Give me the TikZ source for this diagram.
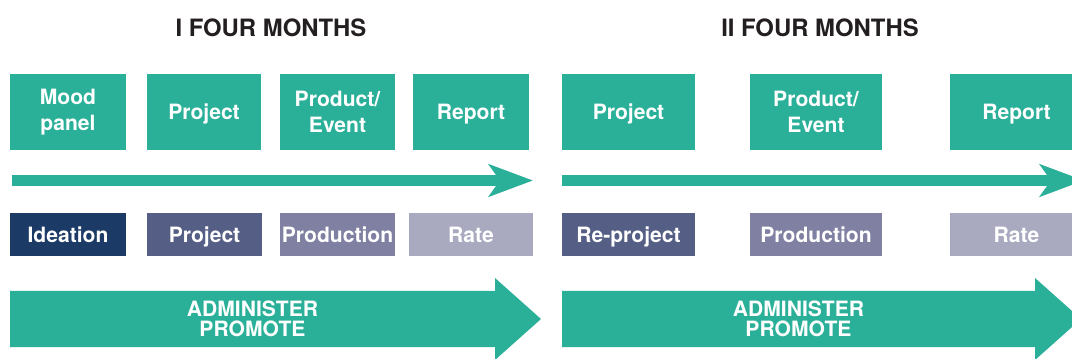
\documentclass[tikz,border=0pt]{standalone}
\usepackage{fontspec}
\setmainfont{TeX Gyre Heros}
\usetikzlibrary{arrows.meta}

\definecolor{mint}{RGB}{42,176,152}
\definecolor{ink}{RGB}{35,31,32}
\definecolor{navy}{RGB}{27,58,102}
\definecolor{slate}{RGB}{85,95,133}
\definecolor{lilac}{RGB}{128,128,162}
\definecolor{haze}{RGB}{169,170,192}

\begin{document}
\begin{tikzpicture}[
  heading/.style={text=ink,font=\fontsize{17}{20}\selectfont\bfseries},
  stagebox/.style={fill=mint,text=white,minimum width=2.9cm,minimum height=1.9cm,
    inner sep=0pt,align=center,font=\fontsize{15}{18}\selectfont\bfseries},
  oneline/.style={text height=10.8pt,text depth=0pt},
  phasebox/.style={text=white,minimum width=2.9cm,minimum height=1.075cm,
    inner sep=0pt,oneline,font=\fontsize{15}{18}\selectfont\bfseries},
  timeline/.style={mint,line width=0.275cm,
    -{Stealth[length=1.1cm,width=0.8cm,inset=0.275cm]}},
  bigtext/.style={text=white,align=center,font=\fontsize{15}{14.2}\selectfont\bfseries}]
\useasboundingbox (0,0) rectangle (26.8,8.95);
\clip (0,0) rectangle (26.8,8.95);

% headings
\node[heading] (h1) at (6.775,8.26) {I FOUR MONTHS};
\node[heading] (h2) at (20.5,8.26) {II FOUR MONTHS};

% first four months
\node[stagebox] (mood) at (1.7,6.15) {Mood\\panel};
\node[stagebox,oneline,minimum width=2.85cm] (proj1) at (5.1,6.15) {Project};
\node[stagebox,minimum width=2.875cm] (prod1) at (8.4375,6.15) {Product/\\Event};
\node[stagebox,oneline] (rep1) at (11.775,6.15) {Report};

\coordinate (t1s) at (0.3,4.4375);
\coordinate (t1e) at (13.325,4.4375);
\draw[timeline] (t1s) -- (t1e);

\node[phasebox,fill=navy] (idea) at (1.7,3.0875) {Ideation};
\node[phasebox,fill=slate,minimum width=2.875cm] (plan1) at (5.1125,3.0875) {Project};
\node[phasebox,fill=lilac,minimum width=2.875cm] (make1) at (8.4375,3.0875) {Production};
\node[phasebox,fill=haze,minimum width=3.1cm] (rate1) at (11.775,3.0875) {Rate};

\fill[mint] (0.25,1.675) -- (12.375,1.675) -- (12.375,2.0) -- (13.525,0.975)
  -- (12.375,-0.05) -- (12.375,0.275) -- (0.25,0.275) -- cycle;
\node[bigtext] (adm1) at (6.3125,0.975) {ADMINISTER\\PROMOTE};

% second four months
\node[stagebox,oneline,minimum width=3.325cm] (proj2) at (15.7125,6.15) {Project};
\node[stagebox,minimum width=3.3cm] (prod2) at (20.4,6.15) {Product/\\Event};
\node[stagebox,oneline,minimum width=3.325cm] (rep2) at (25.4125,6.15) {Report};

\coordinate (t2s) at (14.05,4.4375);
\coordinate (t2e) at (27.1,4.4375);
\draw[timeline] (t2s) -- (t2e);

\node[phasebox,fill=slate,minimum width=3.325cm] (plan2) at (15.7125,3.0875) {Re-project};
\node[phasebox,fill=lilac,minimum width=3.3cm] (make2) at (20.4,3.0875) {Production};
\node[phasebox,fill=haze,minimum width=3.325cm] (rate2) at (25.4125,3.0875) {Rate};

\fill[mint] (14.05,1.675) -- (25.875,1.675) -- (25.875,2.0) -- (27.025,0.975)
  -- (25.875,-0.05) -- (25.875,0.275) -- (14.05,0.275) -- cycle;
\node[bigtext] (adm2) at (19.9625,0.975) {ADMINISTER\\PROMOTE};
\end{tikzpicture}
\end{document}
